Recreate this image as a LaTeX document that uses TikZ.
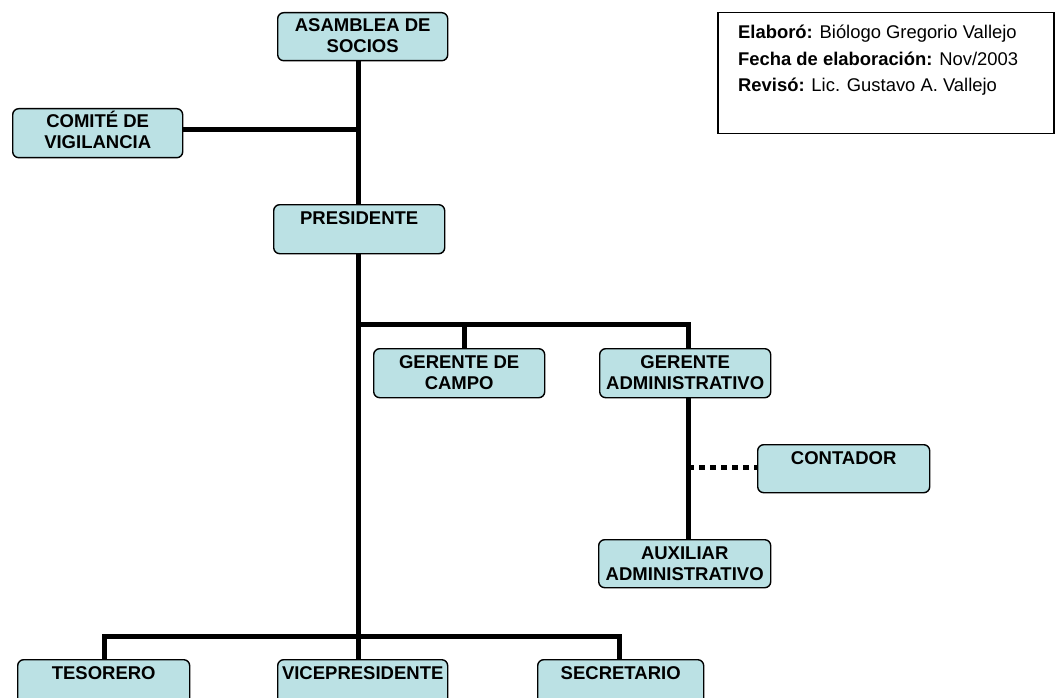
\documentclass[tikz,border=0pt]{standalone}
\usepackage{fontspec}
\setmainfont{Liberation Sans}
\definecolor{boxfill}{HTML}{BBE1E4}
\tikzset{
  unitbox/.style={draw=black, line width=1.4pt, fill=boxfill, rounded corners=6pt},
  boxtext/.style={font=\bfseries\fontsize{18.5}{21}\selectfont, align=center, inner sep=0pt, anchor=base},
  link/.style={line width=5pt, line cap=rect},
  dotlink/.style={line width=5pt, dash pattern=on 6pt off 5pt},
}
% organisational units: corner box, then its label; #7 is the drop from the
% box top to the baseline of the label's last line
\newcommand{\unit}[7]{%
  \node[unitbox, inner sep=0pt, minimum width={#4-#2}, minimum height={#5-#3}, anchor=north west] (#1) at (#2,#3) {};
  \node[boxtext] (#1-t) at ([yshift=-#7pt]#1.north) {#6};
}
\begin{document}
\begin{tikzpicture}[x=1pt, y=-1pt]
\useasboundingbox (0,0) rectangle (1055,698);
\clip (0,0) rectangle (1055,698);

\unit{asam}{277}{12}{447}{60}{ASAMBLEA DE\\SOCIOS}{41}
\unit{comite}{12}{108}{182}{157}{COMITÉ DE\\VIGILANCIA}{41}
\unit{pres}{273}{204}{444}{253}{PRESIDENTE}{20}
\unit{gcampo}{373}{348}{544}{397}{GERENTE DE\\CAMPO}{41}
\unit{gadmin}{599}{348}{770}{397}{GERENTE\\ADMINISTRATIVO}{41}
\unit{cont}{757}{444}{929}{492}{CONTADOR}{20}
\unit{aux}{598}{539}{770}{587}{AUXILIAR\\ADMINISTRATIVO}{41}
\unit{teso}{17}{659}{189}{712}{TESORERO}{20}
\unit{vice}{277}{659}{447}{712}{VICEPRESIDENTE}{20}
\unit{secr}{537}{659}{703}{712}{SECRETARIO}{20}

% junction points of the trunk and branches
\coordinate (tcom) at (358,130);
\coordinate (tmid) at (358,324);
\coordinate (gcj) at (464,324);
\coordinate (gaj) at (688,324);
\coordinate (ctj) at (688,467);
\coordinate (tej) at (104,636);
\coordinate (sej) at (619,636);

\draw[link, line cap=butt] (asam.south -| tcom) -- (pres.north -| tcom);
\draw[link, line cap=butt] (comite.east |- tcom) -- (tcom);
\draw[link, line cap=butt] (pres.south -| tcom) -- (vice.north -| tcom);
\draw[link] (tmid) -- (gaj);
\draw[link, line cap=butt] (gcj) -- (gcampo.north -| gcj);
\draw[link, line cap=butt] (gaj) -- (gadmin.north -| gaj);
\draw[link, line cap=butt] (gadmin.south -| gaj) -- (aux.north -| gaj);
\draw[dotlink] (ctj) -- (cont.west |- ctj);
\draw[link] (tej) -- (sej);
\draw[link, line cap=butt] (tej) -- (teso.north -| tej);
\draw[link, line cap=butt] (sej) -- (secr.north -| sej);

% document record
\node[draw=black, line width=1.5pt, minimum width=336pt, minimum height=121pt, anchor=north west, inner sep=0pt] (rec) at (717,12) {};
\begin{scope}[every node/.style={font=\fontsize{18.4}{21}\selectfont, anchor=base west, inner sep=0pt}]
\node (r1) at (738,39) {\textbf{Elaboró:} Biólogo Gregorio Vallejo};
\node (r2) at (738,66) {\textbf{Fecha de elaboración:} Nov/2003};
\node (r3) at (738,92) {\textbf{Revisó:} Lic. Gustavo A. Vallejo};
\end{scope}
\end{tikzpicture}
\end{document}
